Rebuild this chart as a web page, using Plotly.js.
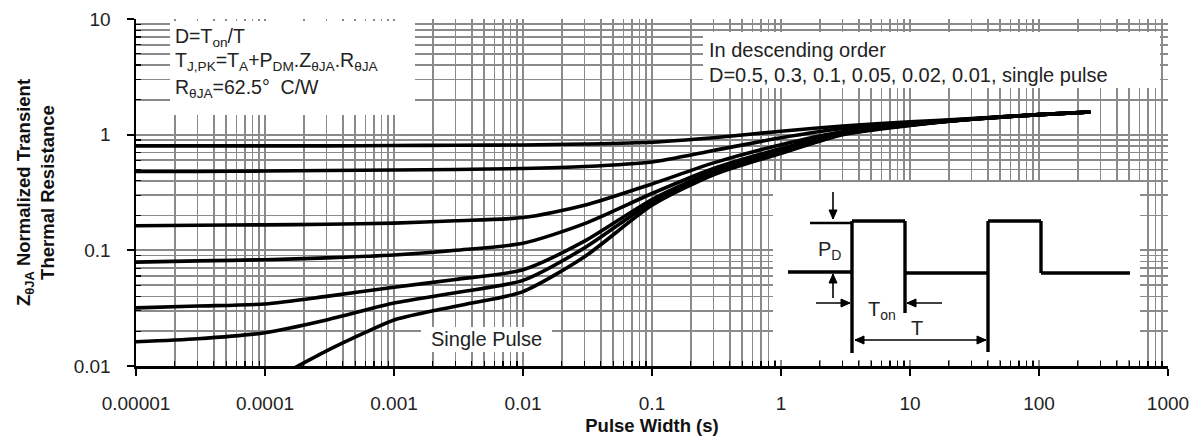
<!DOCTYPE html>
<html>
<head>
<meta charset="utf-8">
<script src="https://cdn.plot.ly/plotly-3.0.1.min.js"></script>
<style>html,body{margin:0;padding:0;background:#fff;}#chart{width:1198px;height:436px;}</style>
</head>
<body>
<div id="chart"></div>
<script>
// ---- data ----
const pulseWidth = [1e-5, 3e-5, 1e-4, 3e-4, 1e-3, 3e-3, 0.01, 0.03, 0.1, 0.3, 1, 3, 10, 30, 100, 250];
const zD05 = [0.80, 0.80, 0.80, 0.80, 0.805, 0.81, 0.815, 0.83, 0.86, 0.94, 1.07, 1.19, 1.29, 1.38, 1.49, 1.57];
const zD03 = [0.48, 0.48, 0.485, 0.49, 0.495, 0.50, 0.51, 0.53, 0.58, 0.73, 0.94, 1.13, 1.26, 1.37, 1.49, 1.57];
const zD01 = [0.163, 0.165, 0.166, 0.168, 0.172, 0.18, 0.192, 0.245, 0.375, 0.57, 0.82, 1.06, 1.23, 1.36, 1.49, 1.57];
const zD005 = [0.079, 0.081, 0.083, 0.086, 0.091, 0.10, 0.115, 0.17, 0.31, 0.51, 0.76, 1.04, 1.22, 1.36, 1.49, 1.57];
const zD002 = [0.0318, 0.033, 0.0344, 0.040, 0.048, 0.056, 0.068, 0.12, 0.275, 0.48, 0.72, 1.02, 1.21, 1.36, 1.49, 1.57];
const zD001 = [0.0162, 0.0172, 0.0194, 0.025, 0.035, 0.043, 0.055, 0.105, 0.26, 0.46, 0.70, 1.01, 1.21, 1.36, 1.49, 1.57];
const singleWidth = [1.6e-4, 3e-4, 6e-4, 1e-3, 2e-3, 4e-3, 0.01, 0.03, 0.1, 0.3, 1, 3, 10, 30, 100, 250];
const zSingle = [0.0093, 0.0135, 0.0195, 0.025, 0.030, 0.035, 0.044, 0.088, 0.245, 0.45, 0.69, 1.0, 1.2, 1.36, 1.49, 1.57];

const seriesNames = ['D=0.5', 'D=0.3', 'D=0.1', 'D=0.05', 'D=0.02', 'D=0.01', 'Single pulse'];
const xTickVals = [1e-5, 1e-4, 1e-3, 1e-2, 1e-1, 1, 10, 100, 1000];
const xTickText = ['0.00001', '0.0001', '0.001', '0.01', '0.1', '1', '10', '100', '1000'];
const yTickVals = [0.01, 0.1, 1, 10];
const yTickText = ['0.01', '0.1', '1', '10'];

// ---- layout helpers ----
const W = 1198, H = 436;
const M = {l: 136, r: 30, t: 19, b: 70};
const PW = W - M.l - M.r, PH = H - M.t - M.b;
const fx = px => (px - M.l) / PW;
const fy = py => (H - M.b - py) / PH;

function minorVals(lo, hi) {
  const v = [];
  for (let e = lo; e < hi; e++) for (let k = 2; k <= 9; k++) v.push(k * Math.pow(10, e));
  return v;
}

const FONT = '"Liberation Sans", Arial, sans-serif';
const GRID = '#8a8a8a';
const lineStyle = {color: '#000', width: 3.6, shape: 'spline', smoothing: 0.7};

const ys = [zD05, zD03, zD01, zD005, zD002, zD001];
const traces = ys.map((y, i) => ({
  x: pulseWidth, y: y, name: seriesNames[i], type: 'scatter', mode: 'lines', line: lineStyle
}));
traces.push({x: singleWidth, y: zSingle, name: seriesNames[6], type: 'scatter', mode: 'lines', line: lineStyle});

// white boxes hiding the grid behind texts and the inset
function whiteBox(x0, y0, x1, y1) {
  return {type: 'rect', xref: 'paper', yref: 'paper', x0: fx(x0), x1: fx(x1), y0: fy(y1), y1: fy(y0),
          fillcolor: '#fff', line: {width: 0}, layer: 'above'};
}
function seg(x0, y0, x1, y1, w) {
  return {type: 'line', xref: 'paper', yref: 'paper', x0: fx(x0), y0: fy(y0), x1: fx(x1), y1: fy(y1),
          line: {color: '#000', width: w || 3.4}, layer: 'above'};
}
function head(hx, hy, tx, ty) {
  const dx = hx - tx, dy = hy - ty, L = Math.hypot(dx, dy);
  const ux = dx / L, uy = dy / L, len = 9, hw = 4;
  const bx = hx - ux * len, by = hy - uy * len;
  const p1 = [bx - uy * hw, by + ux * hw], p2 = [bx + uy * hw, by - ux * hw];
  const P = (x, y) => fx(x) + ',' + fy(y);
  return {type: 'path', xref: 'paper', yref: 'paper',
          path: 'M' + P(hx, hy) + 'L' + P(p1[0], p1[1]) + 'L' + P(p2[0], p2[1]) + 'Z',
          fillcolor: '#000', line: {color: '#000', width: 1}, layer: 'above'};
}
function arrowShapes(tx, ty, hx, hy, both) {
  const out = [seg(tx, ty, hx, hy, 1.6), head(hx, hy, tx, ty)];
  if (both) out.push(head(tx, ty, hx, hy));
  return out;
}

const shapes = [
  whiteBox(170, 21, 415, 115),
  whiteBox(703, 32, 1160, 88),
  whiteBox(421, 327, 552, 352),
  whiteBox(773, 182, 1140, 360),
  // pulse waveform
  seg(788, 272, 852, 272),
  seg(852, 221, 852, 353),
  seg(852, 221, 905, 221),
  seg(905, 221, 905, 313),
  seg(905, 273, 988, 273),
  seg(988, 221, 988, 352),
  seg(988, 221, 1041, 221),
  seg(1041, 221, 1041, 273),
  seg(1041, 273, 1130, 273),
  seg(810, 223, 852, 223, 2.6),
  ...arrowShapes(833, 192, 833, 219),
  ...arrowShapes(833, 298, 833, 274),
  ...arrowShapes(816, 303, 850, 303),
  ...arrowShapes(942, 303, 907, 303),
  ...arrowShapes(855, 340, 986, 340, true)
];

function label(px, py, txt, size, anchor) {
  return {xref: 'paper', yref: 'paper', x: fx(px), y: fy(py), text: txt, showarrow: false,
          xanchor: anchor || 'left', yanchor: 'middle', align: 'left',
          font: {family: FONT, size: size || 18, color: '#222'}};
}

const annotations = [
  label(173, 38, 'D=T<sub>on</sub>/T', 19.5),
  label(173, 61, 'T<sub>J,PK</sub>=T<sub>A</sub>+P<sub>DM</sub>.Z<sub>θJA</sub>.R<sub>θJA</sub>', 19.5),
  label(173, 88, 'R<sub>θJA</sub>=62.5°  C/W', 19.5),
  label(707, 50, 'In descending order', 20),
  label(707, 75, 'D=0.5, 0.3, 0.1, 0.05, 0.02, 0.01, single pulse', 20),
  label(486, 339, 'Single Pulse', 20, 'center'),
  label(829, 250, 'P<sub>D</sub>', 20, 'center'),
  label(882, 310, 'T<sub>on</sub>', 20, 'center'),
  label(917, 328, 'T', 20, 'center')
];

const layout = {
  width: W, height: H,
  margin: M,
  paper_bgcolor: '#fff', plot_bgcolor: '#fff',
  showlegend: false,
  font: {family: FONT, color: '#222'},
  xaxis: {
    type: 'log', range: [-5, 3],
    tickmode: 'array', tickvals: xTickVals, ticktext: xTickText,
    tickfont: {family: FONT, size: 19, color: '#222'},
    ticks: 'outside', ticklen: 7, tickwidth: 2, tickcolor: '#000',
    ticklabelstandoff: 12,
    showline: true, linecolor: '#000', linewidth: 2.5, mirror: false,
    showgrid: true, gridcolor: GRID, gridwidth: 1.7,
    minor: {tickmode: 'array', tickvals: minorVals(-5, 3), showgrid: true, gridcolor: GRID, gridwidth: 1.7,
            ticks: 'inside', ticklen: 5, tickcolor: '#000', tickwidth: 1.2},
    zeroline: false,
    title: {text: '<b>Pulse Width (s)</b>', font: {family: FONT, size: 18.5, color: '#111'}, standoff: 6}
  },
  yaxis: {
    type: 'log', range: [-2, 1],
    tickmode: 'array', tickvals: yTickVals, ticktext: yTickText,
    tickfont: {family: FONT, size: 19, color: '#222'},
    ticks: 'outside', ticklen: 7, tickwidth: 2, tickcolor: '#000',
    ticklabelstandoff: 12,
    showline: true, linecolor: '#000', linewidth: 2.5, mirror: false,
    showgrid: true, gridcolor: GRID, gridwidth: 1.7,
    minor: {tickmode: 'array', tickvals: minorVals(-2, 1), showgrid: true, gridcolor: GRID, gridwidth: 1.7,
            ticks: 'inside', ticklen: 5, tickcolor: '#000', tickwidth: 1.2},
    zeroline: false,
    title: {text: '<b>Z<sub>θJA</sub> Normalized Transient<br>Thermal Resistance</b>',
            font: {family: FONT, size: 18.5, color: '#111'}, standoff: 14}
  },
  shapes: shapes,
  annotations: annotations
};

Plotly.newPlot('chart', traces, layout, {displayModeBar: false, staticPlot: true});
</script>
</body>
</html>
